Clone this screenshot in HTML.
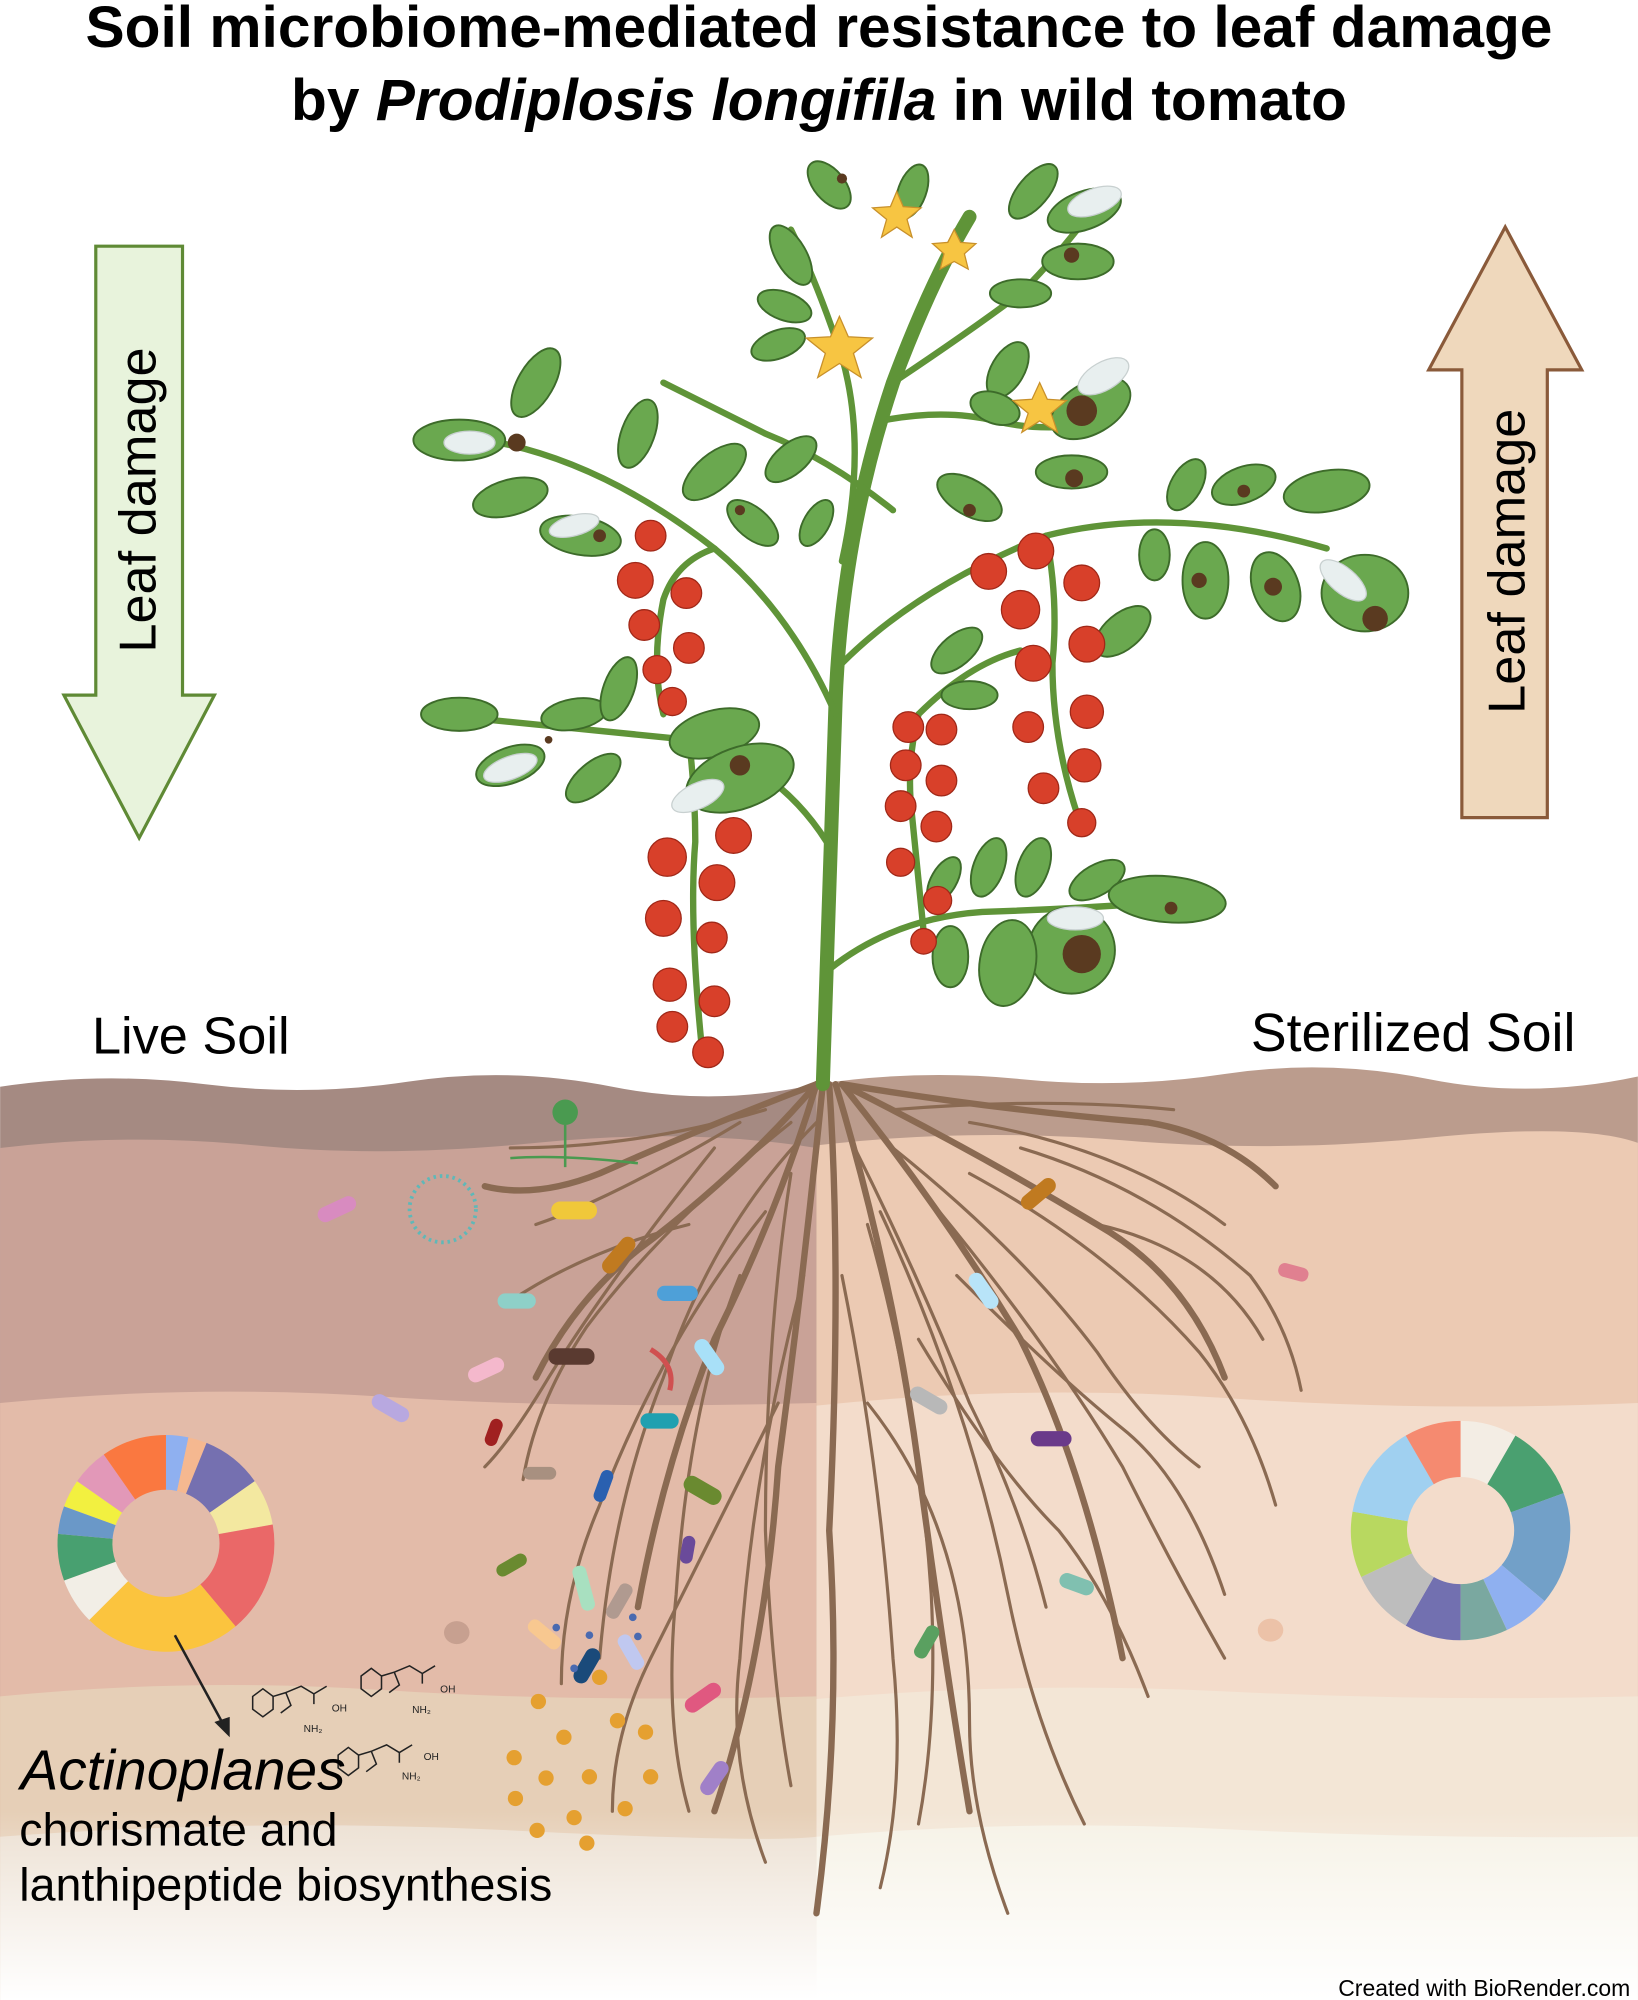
<!DOCTYPE html>
<html><head><meta charset="utf-8">
<style>
html,body{margin:0;padding:0;background:#fff;}
svg{display:block;}
</style></head>
<body>
<svg width="1638" height="2000" viewBox="0 0 1284 1568" xmlns="http://www.w3.org/2000/svg" font-family="'Liberation Sans', sans-serif">
<defs>
<linearGradient id="fade" x1="0" y1="0" x2="0" y2="1">
<stop offset="0" stop-color="#fff" stop-opacity="0"/>
<stop offset="1" stop-color="#fff" stop-opacity="1"/>
</linearGradient>
</defs>
<rect width="1284" height="1568" fill="#fff"/>

<!-- Soil left -->
<path d="M0 852 Q80 840 160 850 T320 848 T480 852 T640 850 L640 1568 L0 1568Z" fill="#a58a82"/>
<path d="M0 900 Q100 888 200 898 T420 896 T640 900 L640 1568 L0 1568Z" fill="#c9a297"/>
<path d="M0 1100 Q150 1085 300 1095 T640 1100 L640 1568 L0 1568Z" fill="#e3bba9"/>
<path d="M0 1330 Q150 1315 300 1325 T640 1330 L640 1568 L0 1568Z" fill="#e6cfb7"/>
<path d="M0 1440 Q200 1425 400 1435 T640 1440 L640 1568 L0 1568Z" fill="#ece0d2"/>
<!-- Soil right -->
<path d="M640 850 Q720 838 800 846 T960 842 T1120 846 T1284 844 L1284 1568 L640 1568Z" fill="#bb9c8d"/>
<path d="M640 898 Q760 884 880 894 T1120 892 T1284 896 L1284 1568 L640 1568Z" fill="#eccab3"/>
<path d="M640 1102 Q800 1085 960 1096 T1284 1100 L1284 1568 L640 1568Z" fill="#f3dccb"/>
<path d="M640 1332 Q800 1318 960 1326 T1284 1330 L1284 1568 L640 1568Z" fill="#f3e6d6"/>
<path d="M640 1440 Q800 1426 960 1434 T1284 1440 L1284 1568 L640 1568Z" fill="#f6f2e6"/>
<rect x="0" y="1420" width="1284" height="148" fill="url(#fade)"/>

<!-- Arrows -->
<polygon points="75,193 143,193 143,545 168,545 109,657 50,545 75,545" fill="#e8f3dc" stroke="#5f8a35" stroke-width="2.5"/>
<polygon points="1146,641 1213,641 1213,290 1240,290 1180,178 1120,290 1146,290" fill="#efd8bc" stroke="#8a5a3a" stroke-width="2.5"/>
<text transform="translate(122,392) rotate(-90)" text-anchor="middle" font-size="41">Leaf damage</text>
<text transform="translate(1195,440) rotate(-90)" text-anchor="middle" font-size="41">Leaf damage</text>

<!-- Title -->
<text x="642" y="37" text-anchor="middle" font-size="46" font-weight="bold">Soil microbiome-mediated resistance to leaf damage</text>
<text x="642" y="94" text-anchor="middle" font-size="46" font-weight="bold">by <tspan font-style="italic">Prodiplosis longifila</tspan> in wild tomato</text>

<!-- Roots -->
<g stroke="#8a6a52" fill="none" stroke-linecap="round">
<g stroke-width="5">
<path d="M640 850 Q560 880 470 920 Q420 940 380 930"/>
<path d="M640 850 Q580 920 500 980 Q450 1020 420 1080"/>
<path d="M640 850 Q610 950 560 1050 Q520 1150 500 1260"/>
<path d="M645 850 Q630 1000 610 1150 Q600 1300 560 1420"/>
<path d="M650 850 Q660 1000 650 1200 Q660 1350 640 1500"/>
<path d="M655 850 Q700 1000 720 1150 Q740 1300 760 1420"/>
<path d="M660 850 Q740 950 800 1050 Q850 1150 880 1300"/>
<path d="M660 850 Q760 900 860 960 Q930 1000 960 1080"/>
<path d="M660 850 Q780 870 900 880 Q960 890 1000 930"/>
</g>
<g stroke-width="2.5">
<path d="M600 870 Q500 900 400 900"/>
<path d="M620 880 Q520 960 460 1040 Q420 1100 410 1160"/>
<path d="M600 950 Q520 1050 470 1180 Q440 1250 440 1320"/>
<path d="M580 1000 Q540 1100 530 1250 Q520 1350 540 1420"/>
<path d="M630 1000 Q590 1150 580 1300 Q570 1380 600 1460"/>
<path d="M660 1000 Q690 1150 700 1300 Q710 1400 690 1480"/>
<path d="M690 950 Q760 1100 790 1250 Q810 1350 850 1430"/>
<path d="M720 930 Q820 1050 880 1150 Q920 1230 960 1300"/>
<path d="M760 920 Q870 980 940 1060 Q980 1110 1000 1180"/>
<path d="M800 900 Q900 930 980 1000 Q1010 1040 1020 1090"/>
<path d="M700 870 Q820 860 920 870"/>
<path d="M560 900 Q480 1000 430 1080 Q400 1130 380 1150"/>
<path d="M720 1050 Q780 1150 830 1200 Q870 1250 900 1330"/>
<path d="M750 1000 Q830 1080 880 1120 Q930 1160 960 1250"/>
<path d="M610 1100 Q560 1200 510 1300 Q480 1360 480 1420"/>
<path d="M680 1100 Q760 1200 760 1350 Q760 1420 790 1500"/>
<path d="M860 960 Q950 980 990 1050"/>
<path d="M540 960 Q460 980 400 1020"/>
<path d="M640 880 Q560 960 520 1080 Q480 1180 470 1300"/>
<path d="M670 900 Q720 1000 760 1100 Q800 1180 820 1260"/>
<path d="M700 900 Q800 980 860 1060 Q900 1120 940 1150"/>
<path d="M620 920 Q600 1050 600 1200 Q605 1320 620 1400"/>
<path d="M680 960 Q720 1100 730 1250 Q735 1350 720 1430"/>
<path d="M760 880 Q880 900 960 960"/>
<path d="M580 880 Q480 940 420 960"/>
</g>
</g>

<!-- Microbes -->
<g stroke-width="0">
<rect x="248" y="942" width="32" height="12" rx="6" fill="#d88bc0" transform="rotate(-25 264 948)"/>
<circle cx="347" cy="948" r="26" fill="none" stroke="#5fb8b8" stroke-width="3" stroke-dasharray="2 3"/>
<rect x="432" y="942" width="36" height="14" rx="7" fill="#f0c83a"/>
<rect x="468" y="978" width="34" height="12" rx="6" fill="#c07a20" transform="rotate(-50 485 984)"/>
<rect x="390" y="1014" width="30" height="12" rx="6" fill="#8ed0c8"/>
<rect x="515" y="1008" width="32" height="12" rx="6" fill="#4ea0d8"/>
<rect x="430" y="1057" width="36" height="13" rx="6" fill="#5a3a30"/>
<rect x="540" y="1058" width="32" height="12" rx="6" fill="#a8e0f8" transform="rotate(55 556 1064)"/>
<rect x="366" y="1068" width="30" height="12" rx="6" fill="#f4b8cc" transform="rotate(-25 381 1074)"/>
<rect x="290" y="1098" width="32" height="12" rx="6" fill="#b8a8e0" transform="rotate(30 306 1104)"/>
<rect x="502" y="1108" width="30" height="12" rx="6" fill="#20a0b0"/>
<rect x="712" y="1092" width="32" height="12" rx="6" fill="#b8b8b8" transform="rotate(30 728 1098)"/>
<rect x="755" y="1006" width="32" height="12" rx="6" fill="#b8e4f8" transform="rotate(55 771 1012)"/>
<rect x="798" y="930" width="32" height="12" rx="6" fill="#c07a20" transform="rotate(-40 814 936)"/>
<rect x="808" y="1122" width="32" height="12" rx="6" fill="#6a3a8a"/>
<rect x="535" y="1162" width="32" height="13" rx="6" fill="#6a8a30" transform="rotate(30 551 1168)"/>
<rect x="410" y="1150" width="26" height="10" rx="5" fill="#a89080"/>
<rect x="376" y="1118" width="22" height="10" rx="5" fill="#a02020" transform="rotate(-70 387 1123)"/>
<rect x="460" y="1160" width="26" height="10" rx="5" fill="#2a60b0" transform="rotate(-70 473 1165)"/>
<rect x="388" y="1222" width="26" height="10" rx="5" fill="#6a8a30" transform="rotate(-30 401 1227)"/>
<rect x="440" y="1240" width="36" height="11" rx="5" fill="#a8e0c0" transform="rotate(75 458 1245)"/>
<rect x="470" y="1250" width="30" height="11" rx="5" fill="#b09a90" transform="rotate(-60 485 1255)"/>
<rect x="412" y="1276" width="30" height="11" rx="5" fill="#f8c890" transform="rotate(40 427 1281)"/>
<rect x="445" y="1300" width="30" height="12" rx="6" fill="#1a4a7a" transform="rotate(-60 460 1306)"/>
<rect x="480" y="1290" width="30" height="11" rx="5" fill="#c0c8f0" transform="rotate(60 495 1295)"/>
<rect x="535" y="1325" width="32" height="12" rx="6" fill="#e05880" transform="rotate(-35 551 1331)"/>
<rect x="545" y="1388" width="30" height="12" rx="6" fill="#a080c8" transform="rotate(-55 560 1394)"/>
<rect x="712" y="1282" width="28" height="11" rx="5" fill="#5aa060" transform="rotate(-60 726 1287)"/>
<rect x="528" y="1210" width="22" height="10" rx="5" fill="#6a4a9a" transform="rotate(-80 539 1215)"/>
<rect x="1002" y="992" width="24" height="11" rx="5" fill="#e08090" transform="rotate(15 1014 997)"/>
<rect x="830" y="1236" width="28" height="12" rx="6" fill="#80c0b0" transform="rotate(20 844 1242)"/>
<circle cx="443" cy="872" r="10" fill="#4a9a50"/>
<path d="M443 882 L443 915 M400 908 Q440 905 500 912" stroke="#4a9a50" stroke-width="2" fill="none"/>
<path d="M510 1058 Q530 1070 525 1090" stroke="#d05050" stroke-width="4" fill="none"/>
<g fill="#e5a030">
<circle cx="422" cy="1334" r="6"/><circle cx="470" cy="1315" r="6"/><circle cx="442" cy="1362" r="6"/><circle cx="484" cy="1349" r="6"/><circle cx="506" cy="1358" r="6"/><circle cx="403" cy="1378" r="6"/><circle cx="462" cy="1393" r="6"/><circle cx="510" cy="1393" r="6"/><circle cx="428" cy="1394" r="6"/><circle cx="404" cy="1410" r="6"/><circle cx="450" cy="1425" r="6"/><circle cx="490" cy="1418" r="6"/><circle cx="421" cy="1435" r="6"/><circle cx="460" cy="1445" r="6"/>
</g>
<g fill="#4a6ab0"><circle cx="436" cy="1276" r="3"/><circle cx="462" cy="1282" r="3"/><circle cx="496" cy="1268" r="3"/><circle cx="500" cy="1283" r="3"/><circle cx="450" cy="1308" r="3"/></g>
<ellipse cx="358" cy="1280" rx="10" ry="9" fill="#c7a090"/>
<ellipse cx="996" cy="1278" rx="10" ry="9" fill="#ecc2a8"/>
</g>

<!-- Plant stems -->
<g stroke="#5f9438" fill="none" stroke-linecap="round">
<path d="M645 850 Q650 700 655 550 Q660 420 700 300 Q730 220 760 170" stroke-width="11"/>
<g stroke-width="5">
<path d="M655 560 Q620 480 560 430 Q470 360 380 345"/>
<path d="M660 520 Q720 460 820 420 Q920 395 1040 430"/>
<path d="M648 660 Q610 600 540 580 Q440 570 340 560"/>
<path d="M650 760 Q700 720 770 715 Q860 712 940 705"/>
<path d="M660 440 Q680 350 660 280 Q640 220 620 180"/>
<path d="M700 300 Q760 260 800 230 Q830 200 860 160"/>
<path d="M690 330 Q740 320 780 330 Q820 340 870 330"/>
<path d="M700 400 Q650 360 600 340 Q560 320 520 300"/>
<path d="M720 560 Q760 520 800 510"/>
<path d="M560 430 Q530 440 520 470 Q510 520 520 560"/>
<path d="M540 580 Q545 620 545 660 Q540 720 550 820"/>
<path d="M820 420 Q830 470 825 520 Q825 580 845 640"/>
<path d="M720 560 Q710 600 715 640 Q720 690 725 740"/>
</g>
</g>
<!-- Leaves -->
<g fill="#6aa84f" stroke="#3d6b2a" stroke-width="1.5">
<ellipse cx="360" cy="345" rx="36" ry="16"/>
<ellipse cx="420" cy="300" rx="30" ry="14" transform="rotate(-60 420 300)"/>
<ellipse cx="455" cy="420" rx="32" ry="15" transform="rotate(10 455 420)"/>
<ellipse cx="500" cy="340" rx="28" ry="13" transform="rotate(-70 500 340)"/>
<ellipse cx="400" cy="390" rx="30" ry="14" transform="rotate(-15 400 390)"/>
<ellipse cx="560" cy="370" rx="30" ry="14" transform="rotate(-40 560 370)"/>
<ellipse cx="360" cy="560" rx="30" ry="13"/>
<ellipse cx="400" cy="600" rx="28" ry="14" transform="rotate(-20 400 600)"/>
<ellipse cx="450" cy="560" rx="26" ry="12" transform="rotate(-10 450 560)"/>
<ellipse cx="485" cy="540" rx="26" ry="12" transform="rotate(-70 485 540)"/>
<ellipse cx="465" cy="610" rx="26" ry="12" transform="rotate(-40 465 610)"/>
<ellipse cx="560" cy="575" rx="36" ry="18" transform="rotate(-15 560 575)"/>
<ellipse cx="580" cy="610" rx="44" ry="24" transform="rotate(-20 580 610)"/>
<ellipse cx="650" cy="145" rx="22" ry="12" transform="rotate(50 650 145)"/>
<ellipse cx="620" cy="200" rx="26" ry="12" transform="rotate(60 620 200)"/>
<ellipse cx="615" cy="240" rx="22" ry="11" transform="rotate(20 615 240)"/>
<ellipse cx="610" cy="270" rx="22" ry="11" transform="rotate(-20 610 270)"/>
<ellipse cx="715" cy="150" rx="22" ry="11" transform="rotate(-70 715 150)"/>
<ellipse cx="810" cy="150" rx="26" ry="12" transform="rotate(-50 810 150)"/>
<ellipse cx="850" cy="165" rx="30" ry="15" transform="rotate(-20 850 165)"/>
<ellipse cx="845" cy="205" rx="28" ry="14"/>
<ellipse cx="800" cy="230" rx="24" ry="11"/>
<ellipse cx="790" cy="290" rx="24" ry="13" transform="rotate(-60 790 290)"/>
<ellipse cx="855" cy="320" rx="34" ry="20" transform="rotate(-30 855 320)"/>
<ellipse cx="780" cy="320" rx="20" ry="12" transform="rotate(20 780 320)"/>
<ellipse cx="760" cy="390" rx="28" ry="14" transform="rotate(30 760 390)"/>
<ellipse cx="840" cy="370" rx="28" ry="13"/>
<ellipse cx="620" cy="360" rx="24" ry="12" transform="rotate(-40 620 360)"/>
<ellipse cx="590" cy="410" rx="24" ry="12" transform="rotate(40 590 410)"/>
<ellipse cx="640" cy="410" rx="20" ry="10" transform="rotate(-60 640 410)"/>
<ellipse cx="930" cy="380" rx="22" ry="12" transform="rotate(-60 930 380)"/>
<ellipse cx="975" cy="380" rx="26" ry="14" transform="rotate(-20 975 380)"/>
<ellipse cx="1040" cy="385" rx="34" ry="16" transform="rotate(-10 1040 385)"/>
<ellipse cx="945" cy="455" rx="18" ry="30"/>
<ellipse cx="1000" cy="460" rx="18" ry="28" transform="rotate(-20 1000 460)"/>
<ellipse cx="1070" cy="465" rx="34" ry="30"/>
<ellipse cx="905" cy="435" rx="12" ry="20"/>
<ellipse cx="880" cy="495" rx="26" ry="14" transform="rotate(-40 880 495)"/>
<ellipse cx="750" cy="510" rx="24" ry="12" transform="rotate(-40 750 510)"/>
<ellipse cx="760" cy="545" rx="22" ry="11"/>
<ellipse cx="740" cy="690" rx="20" ry="10" transform="rotate(-60 740 690)"/>
<ellipse cx="775" cy="680" rx="24" ry="12" transform="rotate(-70 775 680)"/>
<ellipse cx="810" cy="680" rx="24" ry="12" transform="rotate(-70 810 680)"/>
<ellipse cx="860" cy="690" rx="24" ry="12" transform="rotate(-30 860 690)"/>
<ellipse cx="915" cy="705" rx="46" ry="18" transform="rotate(5 915 705)"/>
<ellipse cx="840" cy="745" rx="34" ry="34"/>
<ellipse cx="790" cy="755" rx="22" ry="34" transform="rotate(10 790 755)"/>
<ellipse cx="745" cy="750" rx="14" ry="24"/>
</g>
<!-- damage spots & eggs -->
<g fill="#5a3a20">
<circle cx="405" cy="347" r="7"/><circle cx="470" cy="420" r="5"/><circle cx="580" cy="600" r="8"/><circle cx="848" cy="322" r="12"/><circle cx="842" cy="375" r="7"/><circle cx="840" cy="200" r="6"/><circle cx="1078" cy="485" r="10"/><circle cx="998" cy="460" r="7"/><circle cx="940" cy="455" r="6"/><circle cx="848" cy="748" r="15"/><circle cx="918" cy="712" r="5"/><circle cx="975" cy="385" r="5"/><circle cx="430" cy="580" r="3"/><circle cx="580" cy="400" r="4"/><circle cx="760" cy="400" r="5"/><circle cx="660" cy="140" r="4"/>
</g>
<g fill="#e8efef" stroke="#c8d0d0">
<ellipse cx="368" cy="347" rx="20" ry="9"/><ellipse cx="450" cy="412" rx="20" ry="8" transform="rotate(-15 450 412)"/><ellipse cx="400" cy="602" rx="22" ry="9" transform="rotate(-20 400 602)"/><ellipse cx="547" cy="624" rx="22" ry="10" transform="rotate(-25 547 624)"/><ellipse cx="858" cy="158" rx="22" ry="10" transform="rotate(-20 858 158)"/><ellipse cx="865" cy="295" rx="22" ry="11" transform="rotate(-30 865 295)"/><ellipse cx="1053" cy="455" rx="22" ry="10" transform="rotate(40 1053 455)"/><ellipse cx="843" cy="720" rx="22" ry="9"/>
</g>
<!-- Tomatoes -->
<g fill="#d8402a" stroke="#a02818" stroke-width="1">
<circle cx="498" cy="455" r="14"/><circle cx="510" cy="420" r="12"/><circle cx="538" cy="465" r="12"/><circle cx="505" cy="490" r="12"/><circle cx="540" cy="508" r="12"/><circle cx="515" cy="525" r="11"/><circle cx="527" cy="550" r="11"/>
<circle cx="523" cy="672" r="15"/><circle cx="575" cy="655" r="14"/><circle cx="562" cy="692" r="14"/><circle cx="520" cy="720" r="14"/><circle cx="558" cy="735" r="12"/><circle cx="525" cy="772" r="13"/><circle cx="560" cy="785" r="12"/><circle cx="527" cy="805" r="12"/><circle cx="555" cy="825" r="12"/>
<circle cx="775" cy="448" r="14"/><circle cx="812" cy="432" r="14"/><circle cx="848" cy="457" r="14"/><circle cx="800" cy="478" r="15"/><circle cx="852" cy="505" r="14"/><circle cx="810" cy="520" r="14"/><circle cx="852" cy="558" r="13"/><circle cx="806" cy="570" r="12"/><circle cx="850" cy="600" r="13"/><circle cx="818" cy="618" r="12"/><circle cx="848" cy="645" r="11"/>
<circle cx="712" cy="570" r="12"/><circle cx="738" cy="572" r="12"/><circle cx="710" cy="600" r="12"/><circle cx="738" cy="612" r="12"/><circle cx="706" cy="632" r="12"/><circle cx="734" cy="648" r="12"/><circle cx="706" cy="676" r="11"/><circle cx="735" cy="706" r="11"/><circle cx="724" cy="738" r="10"/>
</g>
<!-- Flowers -->
<g fill="#f7c542" stroke="#c8902a" stroke-width="1">
<polygon points="703,150 708,162 722,163 711,172 715,186 703,178 691,186 695,172 684,163 698,162"/>
<polygon points="748,180 753,190 765,191 756,199 759,211 748,205 737,211 740,199 731,191 743,190"/>
<polygon points="658,248 665,264 684,265 669,277 675,296 658,285 641,296 647,277 632,265 651,264"/>
<polygon points="815,300 821,313 836,314 824,324 829,339 815,330 801,339 806,324 794,314 809,313"/>
</g>

<!-- Soil labels -->
<text x="72" y="826" font-size="41">Live Soil</text>
<text x="1235" y="824" font-size="42" text-anchor="end">Sterilized Soil</text>

<!-- Donut left -->
<g fill="none" stroke-width="43" transform="rotate(-90 130 1210)">
<circle cx="130" cy="1210" r="63.5" stroke="#8fb0f0" stroke-dasharray="13.3 400" transform="rotate(0 130 1210)"/>
<circle cx="130" cy="1210" r="63.5" stroke="#f5b890" stroke-dasharray="11.1 400" transform="rotate(12 130 1210)"/>
<circle cx="130" cy="1210" r="63.5" stroke="#7570b0" stroke-dasharray="36.6 400" transform="rotate(22 130 1210)"/>
<circle cx="130" cy="1210" r="63.5" stroke="#f3e8a0" stroke-dasharray="27.7 400" transform="rotate(55 130 1210)"/>
<circle cx="130" cy="1210" r="63.5" stroke="#ea6868" stroke-dasharray="66.5 400" transform="rotate(80 130 1210)"/>
<circle cx="130" cy="1210" r="63.5" stroke="#fbc43e" stroke-dasharray="94.2 400" transform="rotate(140 130 1210)"/>
<circle cx="130" cy="1210" r="63.5" stroke="#f2eee6" stroke-dasharray="27.7 400" transform="rotate(225 130 1210)"/>
<circle cx="130" cy="1210" r="63.5" stroke="#48a070" stroke-dasharray="27.7 400" transform="rotate(250 130 1210)"/>
<circle cx="130" cy="1210" r="63.5" stroke="#6a98c8" stroke-dasharray="16.6 400" transform="rotate(275 130 1210)"/>
<circle cx="130" cy="1210" r="63.5" stroke="#f2f040" stroke-dasharray="16.6 400" transform="rotate(290 130 1210)"/>
<circle cx="130" cy="1210" r="63.5" stroke="#e298b8" stroke-dasharray="22.2 400" transform="rotate(305 130 1210)"/>
<circle cx="130" cy="1210" r="63.5" stroke="#fa7840" stroke-dasharray="38.8 400" transform="rotate(325 130 1210)"/>
</g>
<!-- Donut right -->
<g fill="none" stroke-width="44" transform="rotate(-90 1145 1200)">
<circle cx="1145" cy="1200" r="64" stroke="#f3ede4" stroke-dasharray="33.5 410" transform="rotate(0 1145 1200)"/>
<circle cx="1145" cy="1200" r="64" stroke="#4aa070" stroke-dasharray="44.7 410" transform="rotate(30 1145 1200)"/>
<circle cx="1145" cy="1200" r="64" stroke="#72a0c8" stroke-dasharray="67 410" transform="rotate(70 1145 1200)"/>
<circle cx="1145" cy="1200" r="64" stroke="#8fb0f0" stroke-dasharray="27.9 410" transform="rotate(130 1145 1200)"/>
<circle cx="1145" cy="1200" r="64" stroke="#7aa8a0" stroke-dasharray="27.9 410" transform="rotate(155 1145 1200)"/>
<circle cx="1145" cy="1200" r="64" stroke="#7270b0" stroke-dasharray="33.5 410" transform="rotate(180 1145 1200)"/>
<circle cx="1145" cy="1200" r="64" stroke="#bdbdbd" stroke-dasharray="39.1 410" transform="rotate(210 1145 1200)"/>
<circle cx="1145" cy="1200" r="64" stroke="#b8d860" stroke-dasharray="39.1 410" transform="rotate(245 1145 1200)"/>
<circle cx="1145" cy="1200" r="64" stroke="#a0d0f0" stroke-dasharray="55.9 410" transform="rotate(280 1145 1200)"/>
<circle cx="1145" cy="1200" r="64" stroke="#f58a70" stroke-dasharray="33.5 410" transform="rotate(330 1145 1200)"/>
</g>

<!-- Arrow to text -->
<line x1="137" y1="1282" x2="175" y2="1352" stroke="#222" stroke-width="2"/>
<polygon points="180,1362 168,1350 180,1346" fill="#222"/>
<!-- molecules (simplified) -->
<g stroke="#222" stroke-width="1.2" fill="none">
<path d="M198 1330 l8 -6 l8 6 l0 10 l-8 6 l-8 -6z M214 1330 l10 -3 l4 10 l-8 6 M224 1327 l12 -5 l10 6 l10 -6 M246 1328 l0 8"/>
<path d="M283 1314 l8 -6 l8 6 l0 10 l-8 6 l-8 -6z M299 1314 l10 -3 l4 10 l-8 6 M309 1311 l12 -5 l10 6 l10 -6 M331 1312 l0 8"/>
<path d="M265 1376 l8 -6 l8 6 l0 10 l-8 6 l-8 -6z M281 1376 l10 -3 l4 10 l-8 6 M291 1373 l12 -5 l10 6 l10 -6 M313 1374 l0 8"/>
</g>
<g font-size="8" fill="#222"><text x="260" y="1342">OH</text><text x="345" y="1327">OH</text><text x="332" y="1380">OH</text><text x="238" y="1358">NH₂</text><text x="323" y="1343">NH₂</text><text x="315" y="1395">NH₂</text></g>

<!-- Bottom text -->
<text x="16" y="1403" font-size="44.5" font-style="italic">Actinoplanes</text>
<text x="15" y="1447" font-size="36.5">chorismate and</text>
<text x="15" y="1490" font-size="36.5">lanthipeptide biosynthesis</text>
<text x="1278" y="1565" font-size="18" text-anchor="end">Created with BioRender.com</text>
</svg>
</body></html>
